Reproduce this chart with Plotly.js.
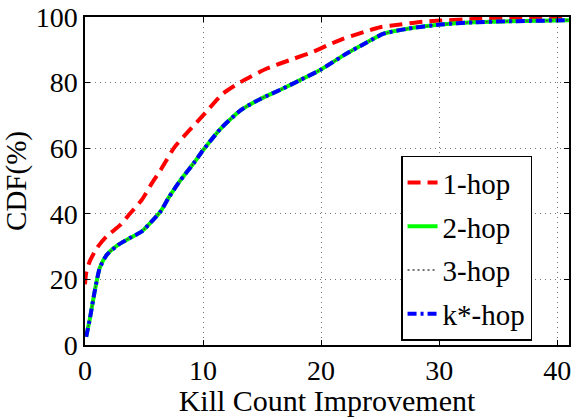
<!DOCTYPE html>
<html>
<head>
<meta charset="utf-8">
<script src="https://cdn.plot.ly/plotly-3.0.1.min.js"></script>
<style>
html,body{margin:0;padding:0;background:#fff;}
#chart{width:572px;height:417px;}
</style>
</head>
<body>
<div id="chart"></div>
<script>
// ---- data ----
const seriesNames = ["1-hop", "2-hop", "3-hop", "k*-hop"];

const hop1X = [0, 0.1, 0.4, 1.0, 1.8, 3.0, 3.8, 4.8, 5.7, 6.4, 7.6, 8.6, 10.0, 11.7, 13.2, 15.4, 17.7, 19.4, 20.5, 21.9, 23.6, 25.0, 26.7, 28.2, 30.1, 33, 36, 41];
const hop1Y = [18.5, 22, 25.5, 29.5, 33, 36.6, 40, 44.2, 49.5, 53.3, 60.4, 64.5, 70, 76.7, 80.2, 84.3, 87.3, 89.5, 91.3, 93.4, 95.4, 96.9, 97.7, 98.4, 98.9, 99.4, 99.7, 99.9];

const hop2X = [0.1, 0.4, 0.85, 1.25, 1.85, 2.8, 3.8, 4.8, 5.5, 6.4, 7.1, 8.0, 9.2, 10.0, 11.5, 13.2, 14.9, 16.6, 18.3, 20.0, 21.9, 23.9, 25.3, 27.3, 30.1, 33, 36, 41];
const hop2Y = [2.5, 7.8, 16.9, 23.5, 27.5, 30.5, 32.6, 34.6, 37.1, 40.7, 45, 49.8, 55.4, 59.4, 66, 71.6, 75.1, 77.9, 80.9, 84, 88.3, 92.3, 94.9, 96.4, 97.7, 98.4, 98.7, 99];

const hop3X = hop2X.slice();
const hop3Y = hop2Y.slice();
const kstarX = hop2X.slice();
const kstarY = hop2Y.slice();

const xTicks = [0, 10, 20, 30, 40];
const yTicks = [0, 20, 40, 60, 80, 100];

const fam = "Liberation Serif";

const traces = [
  {x: hop1X, y: hop1Y, name: seriesNames[0], legendgroup: "a", mode: "lines",
   line: {color: "#ff0000", width: 4, dash: "13px,7px", shape: "spline", smoothing: 0.6}},
  {x: hop2X, y: hop2Y, name: seriesNames[1], legendgroup: "b", mode: "lines",
   line: {color: "#00ff00", width: 4, shape: "spline", smoothing: 0.6}},
  {x: hop3X, y: hop3Y, name: seriesNames[2], legendgroup: "c", mode: "lines",
   line: {color: "#444444", width: 1.5, dash: "2px,3px", shape: "spline", smoothing: 0.6}},
  {x: kstarX, y: kstarY, name: seriesNames[3], legendgroup: "d", mode: "lines",
   line: {color: "#0000ff", width: 4, dash: "9px,4px,3px,4px", shape: "spline", smoothing: 0.6}}
];

const axisCommon = {
  showline: true, linecolor: "#000", linewidth: 1.5, mirror: "ticks",
  ticks: "inside", ticklen: 5, tickwidth: 1, tickcolor: "#000",
  showgrid: true, gridcolor: "#777", gridwidth: 1, griddash: "1px,4px",
  zeroline: false, tickfont: {family: fam, size: 28}
};

const layout = {
  width: 572, height: 417,
  margin: {l: 85, r: 3, t: 17, b: 72},
  paper_bgcolor: "#fff", plot_bgcolor: "#fff",
  showlegend: true,
  font: {family: fam, color: "#000"},
  xaxis: Object.assign({}, axisCommon, {
    range: [0, 41], tickvals: xTicks, ticktext: xTicks.map(String),
    title: {text: "Kill Count Improvement", font: {family: fam, size: 30}, standoff: 0}
  }),
  yaxis: Object.assign({}, axisCommon, {
    range: [0, 100], tickvals: yTicks, ticktext: yTicks.map(String),
    title: {text: "CDF(%)", font: {family: fam, size: 29}, standoff: 4}
  }),
  legend: {
    x: 0.653, y: 0.577, xanchor: "left", yanchor: "top",
    bgcolor: "#fff", bordercolor: "#000", borderwidth: 1.5,
    font: {family: fam, size: 29},
    traceorder: "grouped", tracegroupgap: 3
  }
};

Plotly.newPlot("chart", traces, layout, {displayModeBar: false});

// redraw once the serif font is surely available
function redraw() { Plotly.react("chart", traces, layout, {displayModeBar: false}); }
try {
  if (document.fonts && document.fonts.load) {
    document.fonts.load('28px "Liberation Serif"').then(redraw, redraw);
  }
} catch (e) {}
</script>
</body>
</html>
